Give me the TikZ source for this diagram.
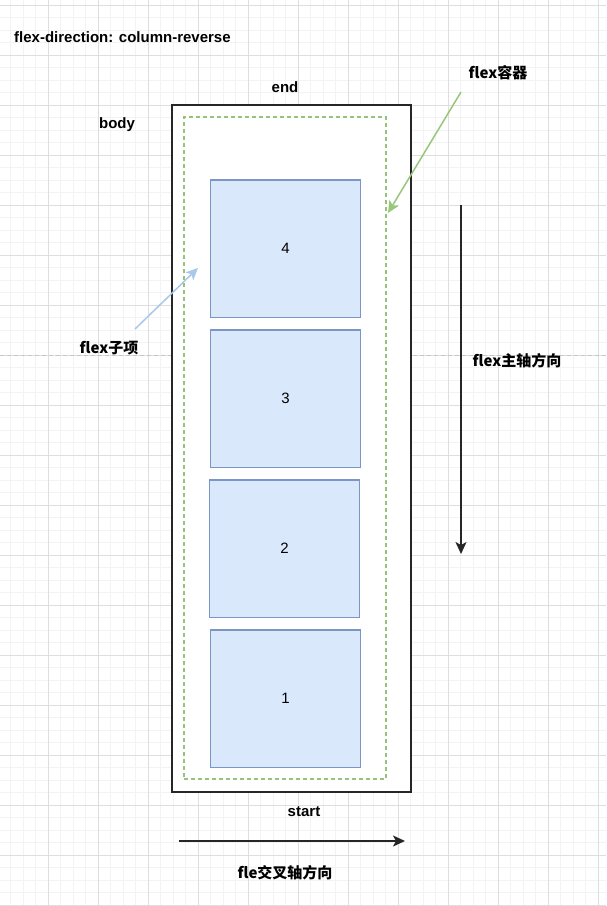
\documentclass[tikz,border=0pt]{standalone}
\usepackage{fontspec}
\setmainfont{Liberation Sans}
\newfontfamily\cjk{Noto Sans CJK SC}
\usetikzlibrary{arrows.meta, positioning}
\definecolor{itemblue}{HTML}{DAE8FC}
\definecolor{itemedge}{HTML}{7B96C4}
\definecolor{boxgreen}{HTML}{97C27A}
\definecolor{arrowgreen}{HTML}{97C77A}
\definecolor{arrowblue}{HTML}{A9C8EB}
\definecolor{gridmajor}{HTML}{DEDEDE}
\definecolor{gridminor}{HTML}{F3F3F3}

\tikzset{
    lbl/.style={font=\fontsize{15}{18}\selectfont\bfseries, inner sep=0pt},
    cjklbl/.style={font=\fontsize{15}{18}\selectfont\cjk\bfseries, inner sep=0pt},
    itembox/.style={draw=itemedge, fill=itemblue, line width=1.5pt,
          minimum width=150pt, minimum height=137.5pt, inner sep=0pt,
          font=\fontsize{15}{18}\selectfont},
    tip/.style={-{Stealth[length=12pt, width=11pt, inset=3pt]}, line width=1.5pt}
}

\begin{document}
\begin{tikzpicture}[x=1pt, y=-1pt]
    \useasboundingbox (0,0) rectangle (606,906);
    \fill[white] (0,0) rectangle (606,906);
    % background grid
    \foreach \x in {10.5,23,...,606} \draw[gridminor, line width=0.8pt] (\x,0) -- (\x,906);
    \foreach \y in {5,17.5,...,906} \draw[gridminor, line width=0.8pt] (0,\y) -- (606,\y);
    \foreach \x in {48,98,...,598} \draw[gridmajor, line width=0.8pt] (\x,0) -- (\x,906);
    \foreach \y in {5,55,...,905} \draw[gridmajor, line width=0.8pt] (0,\y) -- (606,\y);
    \draw[gray!45, line width=0.8pt, dash pattern=on 4pt off 3pt] (0,355) -- (606,355);

    \node[lbl, anchor=west] (title) at (14,37) {flex-direction: column-reverse};

    % body and flex container
    \node[draw=black!85, line width=1.5pt, fill=white, minimum width=239pt,
          minimum height=687pt, inner sep=0pt] (body) at (291.5,448.5) {};
    \node[draw=boxgreen, line width=1.5pt, dash pattern=on 4pt off 3pt,
          minimum width=202pt, minimum height=662pt, inner sep=0pt] (container) at (285,448) {};

    % flex items, reversed
    \foreach \n/\x/\y in {4/285.5/248.5, 3/285.5/398.5, 2/284.5/548.5, 1/285.5/698.5}
        \node[itembox] (item\n) at (\x,\y) {\n};

    \node[lbl] (endlbl) at (285,87) {end};
    \node[lbl] (bodylbl) at (117,125) {body};
    \node[lbl] (startlbl) at (304,812) {start};
    \node[cjklbl] (containerlbl) at (498,73) {flex容器};
    \node[cjklbl] (itemlbl) at (109,348) {flex子项};
    \node[cjklbl] (mainlbl) at (517,361) {flex主轴方向};
    \node[cjklbl] (crosslbl) at (285,873) {fle交叉轴方向};

    \coordinate (ctail) at (461,92);
    \coordinate (chead) at (388,213);
    \coordinate (itail) at (135,329);
    \coordinate (ihead) at (198,268);
    \coordinate (mtail) at (461,205);
    \coordinate (mhead) at (461,554);
    \coordinate (xtail) at (179,841);
    \coordinate (xhead) at (405,841);

    \draw[tip, arrowgreen] (ctail) -- (chead);
    \draw[tip, arrowblue] (itail) -- (ihead);
    \draw[tip, black!85] (mtail) -- (mhead);
    \draw[tip, black!85] (xtail) -- (xhead);
\end{tikzpicture}
\end{document}
